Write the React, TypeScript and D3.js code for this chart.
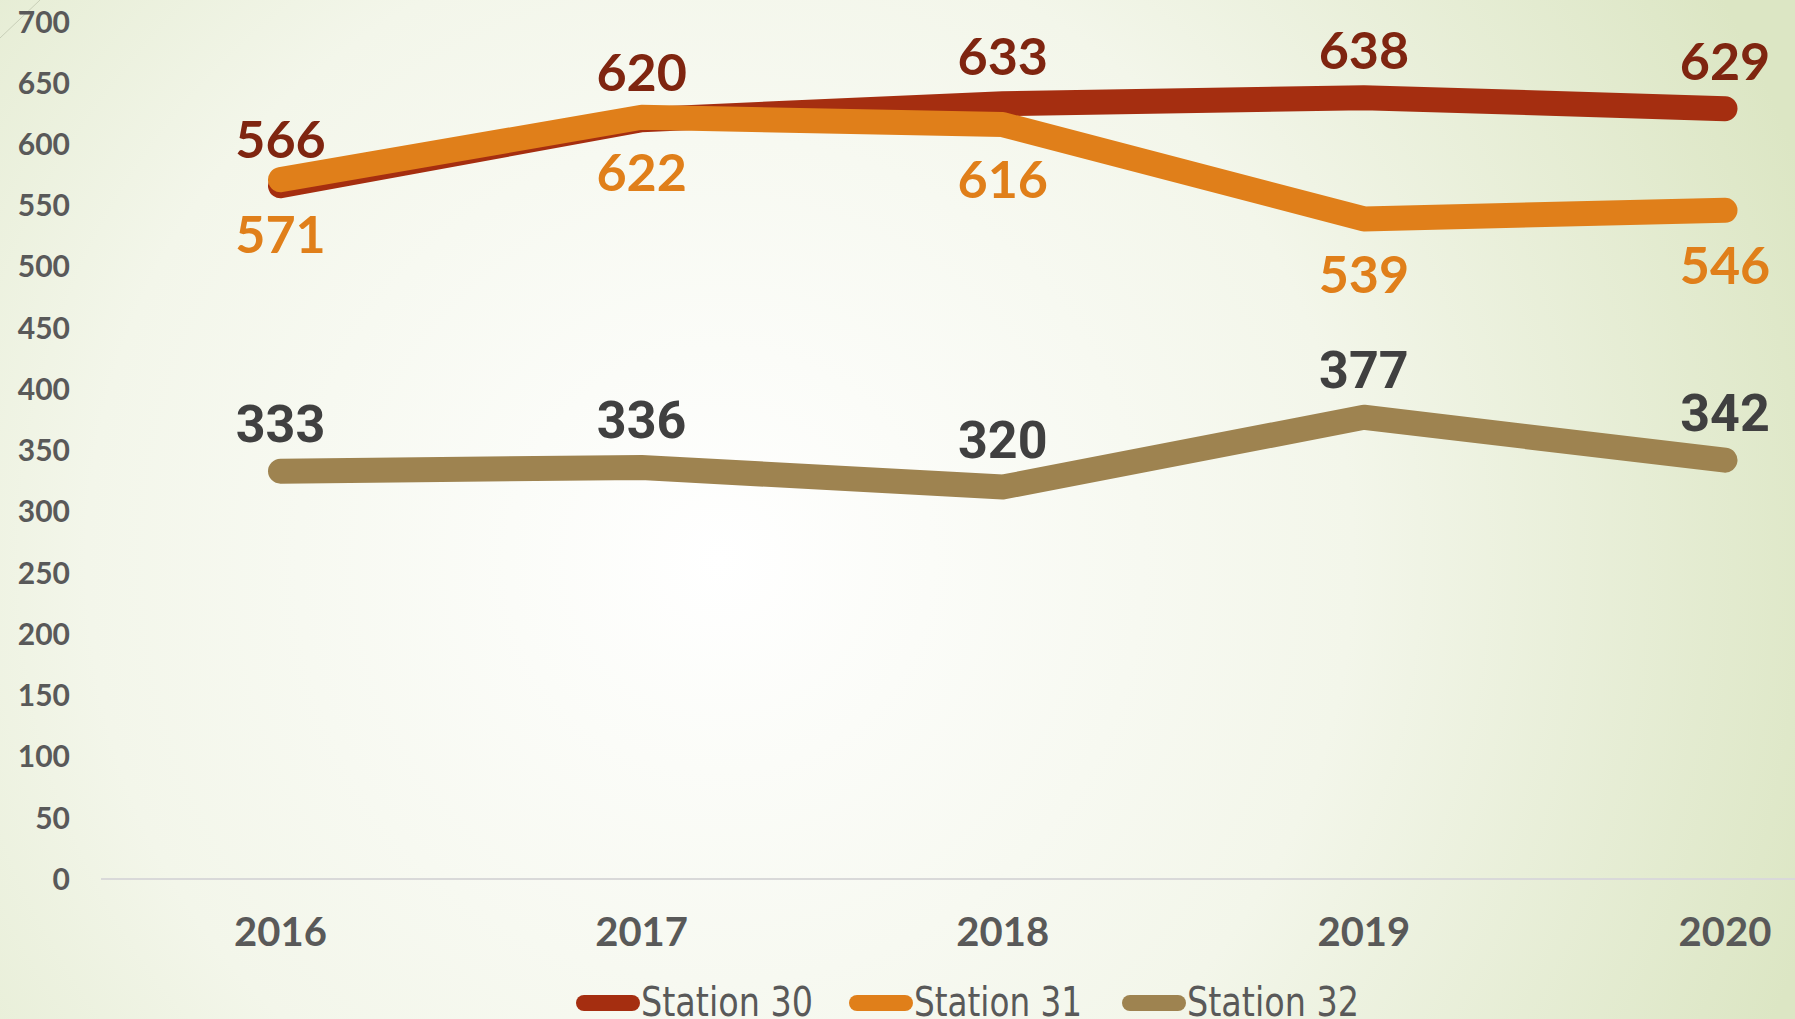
import React, { useEffect, useRef } from 'react';
import * as d3 from 'd3';

const years = ['2016', '2017', '2018', '2019', '2020'];
const station30 = [566, 620, 633, 638, 629];
const station31 = [571, 622, 616, 539, 546];
const station32 = [333, 336, 320, 377, 342];
const yTicks = [0, 50, 100, 150, 200, 250, 300, 350, 400, 450, 500, 550, 600, 650, 700];

const W = 1795;
const H = 1019;

const App = () => {
  const ref = useRef<SVGSVGElement>(null);

  useEffect(() => {
    const svg = d3.select(ref.current);
    svg.selectAll('*').remove();

    // background gradient
    const defs = svg.append('defs');
    const grad = defs.append('radialGradient')
      .attr('id', 'bg')
      .attr('gradientUnits', 'userSpaceOnUse')
      .attr('cx', 720).attr('cy', 560).attr('r', 1150);
    grad.append('stop').attr('offset', '0%').attr('stop-color', '#ffffff');
    grad.append('stop').attr('offset', '55%').attr('stop-color', '#f3f6ea');
    grad.append('stop').attr('offset', '100%').attr('stop-color', '#dce6c4');
    svg.append('rect').attr('width', W).attr('height', H).attr('fill', 'url(#bg)');

    // corner decoration
    svg.append('line')
      .attr('x1', 0).attr('y1', 38).attr('x2', 40).attr('y2', 0)
      .attr('stroke', '#c8cfb8').attr('stroke-width', 1);

    const x = d3.scalePoint<string>().domain(years).range([280.5, 1725]);
    const y = d3.scaleLinear().domain([0, 700]).range([879, 21.7]);

    // baseline
    svg.append('line')
      .attr('x1', 101).attr('x2', W).attr('y1', y(0)).attr('y2', y(0))
      .attr('stroke', '#d9d9d9').attr('stroke-width', 2);

    // y tick labels
    svg.append('g').selectAll('text')
      .data(yTicks)
      .enter()
      .append('text')
      .attr('x', 70)
      .attr('y', d => y(d))
      .attr('dy', '0.36em')
      .attr('text-anchor', 'end')
      .attr('font-family', 'Lato, sans-serif')
      .attr('font-weight', 700)
      .attr('font-size', 30)
      .attr('fill', '#595959')
      .text(d => d);

    // x labels
    svg.append('g').selectAll('text')
      .data(years)
      .enter()
      .append('text')
      .attr('x', d => x(d)!)
      .attr('y', 946)
      .attr('text-anchor', 'middle')
      .attr('font-family', 'Lato, sans-serif')
      .attr('font-weight', 700)
      .attr('font-size', 40)
      .attr('fill', '#595959')
      .text(d => d);

    const series = [
      { name: 'Station 30', values: station30, color: '#a52e10', label: '#7f2510', dy: -47, font: 'Lato, sans-serif' },
      { name: 'Station 31', values: station31, color: '#e07f1a', label: '#e07f1a', dy: 55, font: 'Lato, sans-serif' },
      { name: 'Station 32', values: station32, color: '#9e8350', label: '#404040', dy: -48, font: 'Roboto, sans-serif' },
    ];

    const line = d3.line<number>()
      .x((_, i) => x(years[i])!)
      .y(d => y(d));

    series.forEach(s => {
      svg.append('path')
        .datum(s.values)
        .attr('d', line)
        .attr('fill', 'none')
        .attr('stroke', s.color)
        .attr('stroke-width', 25)
        .attr('stroke-linecap', 'round')
        .attr('stroke-linejoin', 'round');
    });

    // data labels
    series.forEach(s => {
      svg.append('g').selectAll('text')
        .data(s.values)
        .enter()
        .append('text')
        .attr('x', (_, i) => x(years[i])!)
        .attr('y', d => y(d) + s.dy)
        .attr('dy', '0.36em')
        .attr('text-anchor', 'middle')
        .attr('font-family', s.font)
        .attr('font-weight', 700)
        .attr('font-size', 52)
        .attr('fill', s.label)
        .text(d => d);
    });

    // legend (sits at the very bottom edge, as in the original)
    const legendX = [576, 849, 1122];
    const leg = svg.append('g');
    series.forEach((s, i) => {
      leg.append('line')
        .attr('x1', legendX[i] + 8).attr('x2', legendX[i] + 56)
        .attr('y1', 1003).attr('y2', 1003)
        .attr('stroke', s.color)
        .attr('stroke-width', 16)
        .attr('stroke-linecap', 'round');
      leg.append('text')
        .attr('x', legendX[i] + 65)
        .attr('y', 1016)
        .attr('font-family', '"Liberation Sans Narrow", "DejaVu Sans Condensed", sans-serif')
        .attr('font-size', 40)
        .attr('fill', '#595959')
        .attr('textLength', i === 1 ? 168 : 172)
        .attr('lengthAdjust', 'spacingAndGlyphs')
        .text(s.name);
    });
  }, []);

  return (
    <svg
      ref={ref}
      width={W}
      height={H}
      style={{ position: 'absolute', left: 0, top: 0, display: 'block' }}
    />
  );
};

export default App;
